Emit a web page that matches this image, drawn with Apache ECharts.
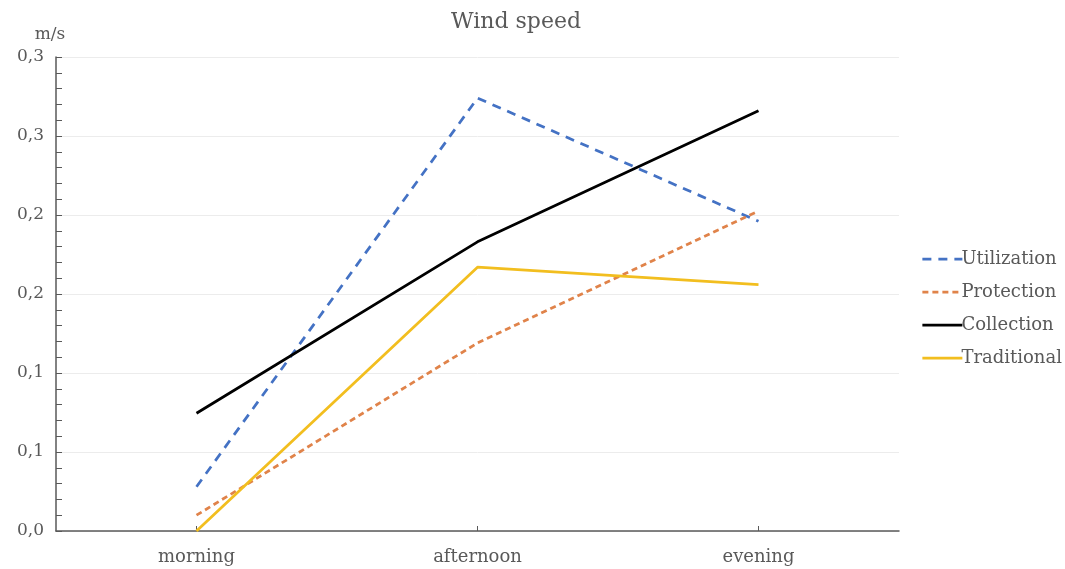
<!DOCTYPE html>
<html>
<head>
<meta charset="utf-8">
<script src="https://cdn.jsdelivr.net/npm/echarts@6/dist/echarts.min.js"></script>
<style>html,body{margin:0;padding:0;background:#fff}#c{width:1065px;height:569px}</style>
</head>
<body>
<div id="c"></div>
<script>
var categories = ['morning', 'afternoon', 'evening'];
var utilization = [0.028, 0.274, 0.196];
var protection = [0.010, 0.119, 0.2025];
var collection = [0.0745, 0.183, 0.266];
var traditional = [0.0, 0.167, 0.156];
var seriesNames = ['Utilization', 'Protection', 'Collection', 'Traditional'];

var FONT = '"DejaVu Serif", "Liberation Serif", serif';
var GREY = '#595959';
var chart = echarts.init(document.getElementById('c'));
function fmt(v) { return (Math.round(v * 10 + 1e-9) / 10).toFixed(1).replace('.', ','); }
chart.setOption({
  animation: false,
  title: {
    text: 'Wind speed', left: 511, top: 6, textAlign: 'center',
    textStyle: { fontFamily: FONT, fontSize: 22, fontWeight: 'normal', color: GREY }
  },
  legend: {
    orient: 'vertical', left: 916, top: 245, itemGap: 15, itemWidth: 40, itemHeight: 18,
    itemStyle: { opacity: 0 },
    lineStyle: { width: 2.75 },
    textStyle: { fontFamily: FONT, fontSize: 18, color: GREY, padding: [0, 0, 0, -6] },
    data: seriesNames
  },
  grid: { left: 56, right: 166, top: 57, bottom: 38 },
  xAxis: {
    type: 'category', data: categories, boundaryGap: true,
    axisLine: { lineStyle: { color: GREY, width: 1.5 } },
    axisTick: { show: true, inside: true, alignWithLabel: true, length: 5, lineStyle: { color: GREY } },
    axisLabel: { fontFamily: FONT, fontSize: 18, color: GREY, margin: 17 }
  },
  yAxis: {
    type: 'value', min: 0, max: 0.3, interval: 0.05,
    name: 'm/s', nameLocation: 'end', nameGap: 14,
    nameTextStyle: { fontFamily: FONT, fontSize: 17, color: GREY, align: 'center', padding: [0, 0, 0, -12] },
    axisLine: { show: true, lineStyle: { color: GREY, width: 1.5 } },
    axisTick: { show: true, inside: true, length: 6, lineStyle: { color: GREY } },
    minorTick: { show: true, splitNumber: 5, length: 6, lineStyle: { color: GREY } },
    splitLine: { show: true, lineStyle: { color: '#ececec', width: 1 } },
    axisLabel: { fontFamily: FONT, fontSize: 17, color: GREY, margin: 12, formatter: fmt }
  },
  series: [
    { name: 'Utilization', type: 'line', data: utilization, symbol: 'none',
      itemStyle: { color: '#4472c4' },
      lineStyle: { color: '#4472c4', width: 2.75, type: [9, 7] } },
    { name: 'Protection', type: 'line', data: protection, symbol: 'none',
      itemStyle: { color: '#ed7d31' },
      lineStyle: { color: '#e0834a', width: 2.75, type: [6, 4] } },
    { name: 'Collection', type: 'line', data: collection, symbol: 'none',
      itemStyle: { color: '#000000' },
      lineStyle: { color: '#000000', width: 2.75 } },
    { name: 'Traditional', type: 'line', data: traditional, symbol: 'none',
      itemStyle: { color: '#f2be1f' },
      lineStyle: { color: '#f2be1f', width: 2.75 } }
  ]
});
</script>
</body>
</html>
